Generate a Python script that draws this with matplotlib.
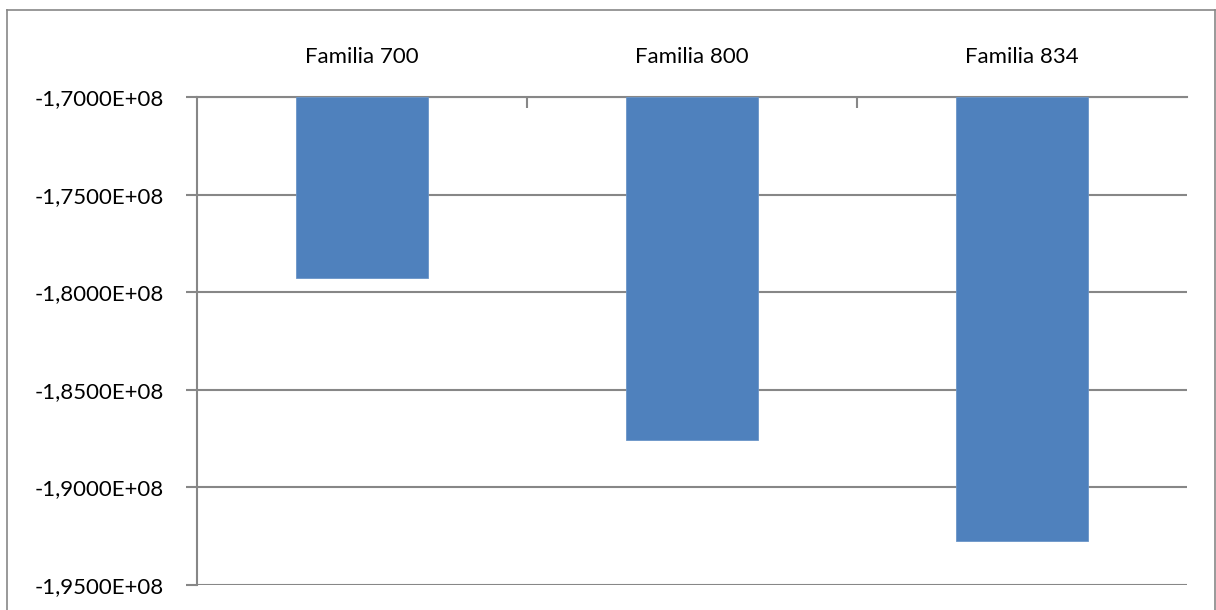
import matplotlib.pyplot as plt
from matplotlib.ticker import FuncFormatter, FixedLocator
from matplotlib.lines import Line2D

plt.rcParams['font.family'] = ['Lato', 'DejaVu Sans']

# Datos
familias = ['Familia 700', 'Familia 800', 'Familia 834']
valores = [-1.7927e8, -1.8756e8, -1.9277e8]
y_ticks = [-1.70e8, -1.75e8, -1.80e8, -1.85e8, -1.90e8, -1.95e8]

base = y_ticks[0]
gris = '#878787'

fig = plt.figure(figsize=(12.16, 6.10), dpi=100)
ax = fig.add_axes([197 / 1216, 1 - 585 / 610, 990 / 1216, (585 - 97.3) / 610])

x = range(len(familias))
ax.bar(x, [v - base for v in valores], bottom=base, width=0.4,
       color='#4F81BD', edgecolor='#6A95C8', linewidth=0.6, zorder=3)

ax.set_xlim(-0.5, 2.5)
ax.set_ylim(y_ticks[-1], y_ticks[0])
ax.set_yticks(y_ticks)
ax.yaxis.set_major_formatter(FuncFormatter(lambda v, p: f'{v:.4E}'.replace('.', ',')))
ax.grid(axis='y', color=gris, linewidth=1.5, zorder=1)

ax.xaxis.tick_top()
ax.set_xticks(list(x))
ax.set_xticklabels(familias)
ax.xaxis.set_minor_locator(FixedLocator([0.5, 1.5]))
ax.tick_params(axis='x', which='major', length=0, pad=22, labelsize=16)
ax.tick_params(axis='x', which='minor', direction='in', length=8, width=1.5, color=gris)
ax.tick_params(axis='y', direction='out', length=8, width=1.5, color=gris, pad=16, labelsize=16)

for lado in ['right', 'bottom']:
    ax.spines[lado].set_visible(False)
for lado in ['left', 'top']:
    ax.spines[lado].set_color(gris)
    ax.spines[lado].set_linewidth(1.5)

# Marco exterior del gráfico
W, H = 1216, 610
for xs, ys in [([7, 7], [10, 610]), ([7, 1215], [10, 10]), ([1215, 1215], [10, 610])]:
    fig.add_artist(Line2D([xi / W for xi in xs], [1 - yi / H for yi in ys],
                          color=gris, linewidth=1.2, transform=fig.transFigure))

fig.savefig('out.png', dpi=100)
